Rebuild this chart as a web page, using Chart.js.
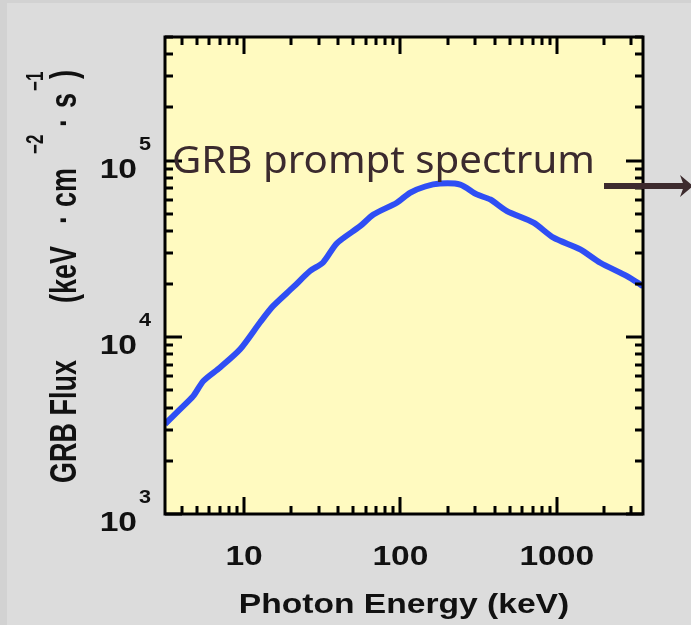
<!DOCTYPE html>
<html>
<head>
<meta charset="utf-8">
<script src="https://cdn.jsdelivr.net/npm/chart.js@4.4.0/dist/chart.umd.min.js"></script>
<style>
html, body { margin: 0; padding: 0; background: #dcdcdc; }
canvas { display: block; }
</style>
</head>
<body>
<canvas id="grb" width="691" height="625"></canvas>
<script>
// photon energy (keV) and flux
var energy = [3.12, 3.9, 4.74, 5.49, 7.02, 9.43, 12.7, 15.3, 20.6, 26.4, 32.0, 39.2, 55.2, 67.2, 94.8,
              115, 144, 179, 241, 308, 375, 480, 710, 953, 1413, 1897, 2811, 3420, 3560]
var flux = [3230, 3920, 4660, 5660, 6750, 8550, 12200, 15000, 19200, 23700, 26500, 34000, 42500, 49500, 57700,
            65700, 71300, 74100, 73100, 64300, 60200, 51700, 44500, 36600, 31400, 26400, 22200, 19900, 19400]

var xTickValues = [10, 100, 1000]
var xTickLabels = ["10", "100", "1000"]
var yTickValues = [1e3, 1e4, 1e5]
var yTickExponents = ["3", "4", "5"]

var xMin = 3.12, xMax = 3560
var yMin = 1e3, yMax = 5e5

var STRETCH = 1.2
var AXIS_FONT = "bold 28px 'Liberation Sans', Arial, sans-serif"
var SUP_FONT = "bold 18px 'Liberation Sans', Arial, sans-serif"
var TITLE_FONT = "bold 27px 'Liberation Sans', Arial, sans-serif"
var TITLE_SUP = "bold 17px 'Liberation Sans', Arial, sans-serif"

function stretchedText(ctx, text, x, y, align) {
    ctx.save()
    ctx.translate(x, y)
    ctx.scale(STRETCH, 1)
    ctx.textAlign = align
    ctx.fillText(text, 0, 0)
    ctx.restore()
}

var framePlugin = {
    id: "frame",
    beforeDraw: function (chart) {
        var ctx = chart.ctx, a = chart.chartArea
        ctx.save()
        ctx.fillStyle = "#dcdcdc"
        ctx.fillRect(0, 0, chart.width, chart.height)
        ctx.fillStyle = "#d2d2d2"
        ctx.fillRect(0, 0, 7, chart.height)
        ctx.fillRect(0, 0, chart.width, 3)
        ctx.fillStyle = "#fffac0"
        ctx.fillRect(a.left, a.top, a.right - a.left, a.bottom - a.top)
        ctx.restore()
    },
    afterDatasetsDraw: function (chart) {
        var ctx = chart.ctx, a = chart.chartArea
        var xs = chart.scales.x, ys = chart.scales.y
        ctx.save()
        ctx.strokeStyle = "#000"
        ctx.lineWidth = 3
        ctx.lineCap = "butt"

        // ticks on all four sides, pointing inwards
        ctx.beginPath()
        for (var d = 1; d <= 1000; d *= 10) {
            for (var m = 1; m < 10; m++) {
                var v = m * d
                if (v < xMin || v > xMax) continue
                var px = Math.round(xs.getPixelForValue(v))
                var len = m === 1 ? 17 : 8
                ctx.moveTo(px, a.bottom); ctx.lineTo(px, a.bottom - len)
                ctx.moveTo(px, a.top); ctx.lineTo(px, a.top + len)
            }
        }
        for (var d = 1e3; d <= 1e5; d *= 10) {
            for (var m = 1; m < 10; m++) {
                var v = m * d
                if (v < yMin || v > yMax) continue
                var py = Math.round(ys.getPixelForValue(v))
                var len = m === 1 ? 17 : 8
                ctx.moveTo(a.left, py); ctx.lineTo(a.left + len, py)
                ctx.moveTo(a.right, py); ctx.lineTo(a.right - len, py)
            }
        }
        ctx.stroke()
        ctx.strokeRect(a.left, a.top, a.right - a.left, a.bottom - a.top)

        // tick labels
        ctx.fillStyle = "#111"
        ctx.textBaseline = "alphabetic"
        ctx.font = AXIS_FONT
        xTickValues.forEach(function (v, i) {
            stretchedText(ctx, xTickLabels[i], xs.getPixelForValue(v), 565, "center")
        })
        yTickValues.forEach(function (v, i) {
            var py = ys.getPixelForValue(v)
            ctx.font = AXIS_FONT
            stretchedText(ctx, "10", 137, py + 17, "right")
            ctx.font = SUP_FONT
            stretchedText(ctx, yTickExponents[i], 139, py - 11, "left")
        })

        // x axis title
        ctx.font = AXIS_FONT
        stretchedText(ctx, "Photon Energy (keV)", (a.left + a.right) / 2, 613, "center")

        // y axis title, rotated, pieces placed along the axis
        var pieces = [
            ["GRB Flux", 483, 76, TITLE_FONT],
            ["(keV", 303, 76, TITLE_FONT],
            ["\u00b7", 224, 76, TITLE_FONT],
            ["cm", 207, 76, TITLE_FONT],
            ["\u22122", 154, 43, TITLE_SUP],
            ["\u00b7", 127, 76, TITLE_FONT],
            ["s", 108, 76, TITLE_FONT],
            ["\u22121", 91, 43, TITLE_SUP],
            [")", 79, 76, TITLE_FONT]
        ]
        pieces.forEach(function (p) {
            ctx.save()
            ctx.translate(p[2], p[1])
            ctx.rotate(-Math.PI / 2)
            ctx.scale(1, 1.38)
            ctx.font = p[3]
            ctx.textAlign = "left"
            ctx.fillText(p[0], 0, 0)
            ctx.restore()
        })

        // annotation and arrow
        ctx.fillStyle = "#3b2a2e"
        ctx.font = "39px 'Noto Sans', 'Open Sans', sans-serif"
        var w = ctx.measureText("GRB prompt spectrum").width
        ctx.save()
        ctx.translate(172, 173)
        ctx.scale(423 / w, 1)
        ctx.textAlign = "left"
        ctx.fillText("GRB prompt spectrum", 0, 0)
        ctx.restore()

        ctx.strokeStyle = "#3d2b2e"
        ctx.lineWidth = 6
        ctx.beginPath()
        ctx.moveTo(604, 186); ctx.lineTo(686, 186)
        ctx.stroke()
        ctx.fillStyle = "#3d2b2e"
        ctx.beginPath()
        ctx.moveTo(680, 175); ctx.lineTo(693, 186); ctx.lineTo(680, 197); ctx.lineTo(684, 186)
        ctx.closePath()
        ctx.fill()
        ctx.restore()
    }
}

var points = energy.map(function (e, i) { return { x: e, y: flux[i] } })

new Chart(document.getElementById("grb"), {
    type: "line",
    data: {
        datasets: [{
            data: points,
            borderColor: "#2f4ef4",
            borderWidth: 6,
            pointRadius: 0,
            tension: 0.25,
            fill: false
        }]
    },
    options: {
        responsive: false,
        animation: false,
        devicePixelRatio: 1,
        layout: { padding: { left: 165, top: 37, right: 48, bottom: 111 } },
        scales: {
            x: { type: "logarithmic", min: xMin, max: xMax, display: false },
            y: { type: "logarithmic", min: yMin, max: yMax, display: false }
        },
        plugins: { legend: { display: false }, tooltip: { enabled: false } }
    },
    plugins: [framePlugin]
})
</script>
</body>
</html>
